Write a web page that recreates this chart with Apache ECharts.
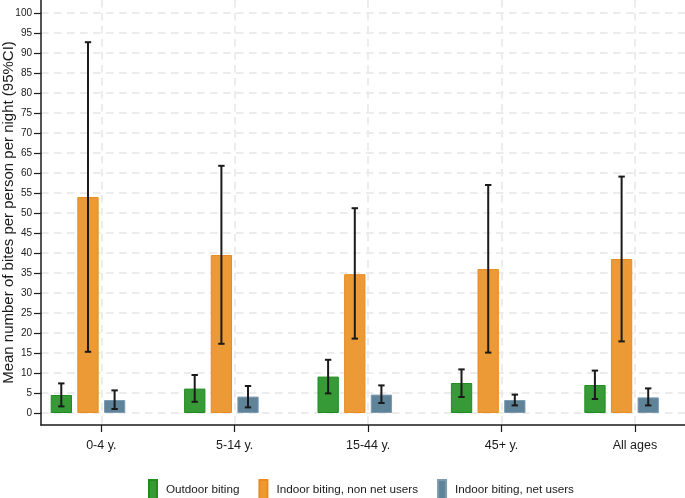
<!DOCTYPE html>
<html>
<head>
<meta charset="utf-8">
<script src="https://cdn.jsdelivr.net/npm/echarts@6/dist/echarts.min.js"></script>
<style>
html,body{margin:0;padding:0;background:#fff;}
#chart{width:685px;height:498px;}
</style>
</head>
<body>
<div id="chart"></div>
<script>
const categories = ['0-4 y.', '5-14 y.', '15-44 y.', '45+ y.', 'All ages'];
const seriesNames = ['Outdoor biting', 'Indoor biting, non net users', 'Indoor biting, net users'];
const outdoor = [4.5, 6.1, 9.1, 7.5, 7.0];
const outdoorLow = [1.65, 2.8, 4.9, 4.0, 3.5];
const outdoorHigh = [7.4, 9.5, 13.3, 10.9, 10.6];
const indoorNon = [54.0, 39.5, 34.7, 36.0, 38.5];
const indoorNonLow = [15.3, 17.3, 18.6, 15.1, 17.9];
const indoorNonHigh = [92.7, 61.8, 51.2, 57.0, 59.1];
const indoorNet = [3.25, 4.1, 4.6, 3.25, 3.9];
const indoorNetLow = [1.0, 1.4, 2.5, 1.9, 1.9];
const indoorNetHigh = [5.65, 6.75, 6.9, 4.6, 6.15];
const yTicks = [0,5,10,15,20,25,30,35,40,45,50,55,60,65,70,75,80,85,90,95,100];
const xTicks = [0,1,2,3,4];

const colors = ['#369b36', '#ec9a36', '#5f8399'];
const borders = ['#1f8c1f', '#e98b1f', '#7d9bb0'];
const BAR_W = 21.3;
const offsets = [-40, -13.3, 13.3];

const values = [outdoor, indoorNon, indoorNet];
const lows = [outdoorLow, indoorNonLow, indoorNetLow];
const highs = [outdoorHigh, indoorNonHigh, indoorNetHigh];

const font = '"Liberation Sans", Arial, Helvetica, sans-serif';

const series = [];
values.forEach((vals, s) => {
  series.push({
    name: seriesNames[s],
    type: 'bar',
    barWidth: BAR_W,
    barGap: '25%',
    data: vals.map((v, i) => [i, v]),
    itemStyle: { color: colors[s], borderColor: borders[s], borderWidth: 1 },
    z: 2
  });
});
// empty fourth slot so the three bars sit as in the original layout
series.push({ name: '_pad', type: 'bar', barWidth: BAR_W, barGap: '25%', data: categories.map((c, i) => [i, '-']) });

values.forEach((vals, s) => {
  series.push({
    type: 'custom',
    name: 'err' + s,
    z: 5,
    data: vals.map((v, i) => [i, lows[s][i], highs[s][i]]),
    renderItem: function (params, api) {
      const lo = api.coord([api.value(0), api.value(1)]);
      const hi = api.coord([api.value(0), api.value(2)]);
      const x = lo[0] + offsets[s];
      const cap = 3.2;
      const st = { stroke: '#1a1a1a', lineWidth: 2 };
      return {
        type: 'group',
        children: [
          { type: 'line', shape: { x1: x, y1: lo[1], x2: x, y2: hi[1] }, style: st },
          { type: 'line', shape: { x1: x - cap, y1: lo[1], x2: x + cap, y2: lo[1] }, style: st },
          { type: 'line', shape: { x1: x - cap, y1: hi[1], x2: x + cap, y2: hi[1] }, style: st }
        ]
      };
    }
  });
});

const chart = echarts.init(document.getElementById('chart'), null, { renderer: 'canvas' });
chart.setOption({
  animation: false,
  backgroundColor: '#ffffff',
  grid: { left: 41, right: 0, top: 0, bottom: 73, containLabel: false, outerBoundsMode: 'none' },
  legend: {
    data: seriesNames,
    left: 148, top: 479,
    padding: 0,
    itemWidth: 8, itemHeight: 19,
    itemGap: 19,
    icon: 'rect',
    textStyle: { fontFamily: font, fontSize: 11.7, color: '#1a1a1a', padding: [0, 0, 0, 4] }
  },
  xAxis: {
    type: 'value',
    min: -0.452, max: 4.3755,
    axisLine: { show: true, onZero: false, lineStyle: { color: '#1a1a1a', width: 1.5 } },
    axisTick: { show: true, customValues: xTicks, length: 7, lineStyle: { color: '#1a1a1a', width: 1.2 } },
    axisLabel: { customValues: xTicks, formatter: v => categories[Math.round(v)], fontFamily: font, fontSize: 12.5, color: '#1a1a1a', margin: 14 },
    splitLine: { show: true, lineStyle: { color: '#ececec', width: 2, type: [7.5, 5.5] } }
  },
  yAxis: {
    type: 'value',
    min: -3, max: 103.25,
    name: 'Mean number of bites per person per night (95%CI)',
    nameLocation: 'middle',
    nameGap: 25,
    nameMoveOverlap: false,
    nameRotate: 90,
    nameTextStyle: { fontFamily: font, fontSize: 15, color: '#1a1a1a' },
    axisLine: { show: true, onZero: false, lineStyle: { color: '#1a1a1a', width: 1.5 } },
    axisTick: { show: true, customValues: yTicks, length: 7, lineStyle: { color: '#1a1a1a', width: 1.2 } },
    axisLabel: { customValues: yTicks, fontFamily: font, fontSize: 10, color: '#1a1a1a', margin: 9 },
    splitLine: { show: true, lineStyle: { color: '#ececec', width: 2, type: [7.5, 5.5] } }
  },
  series: series
});
</script>
</body>
</html>
